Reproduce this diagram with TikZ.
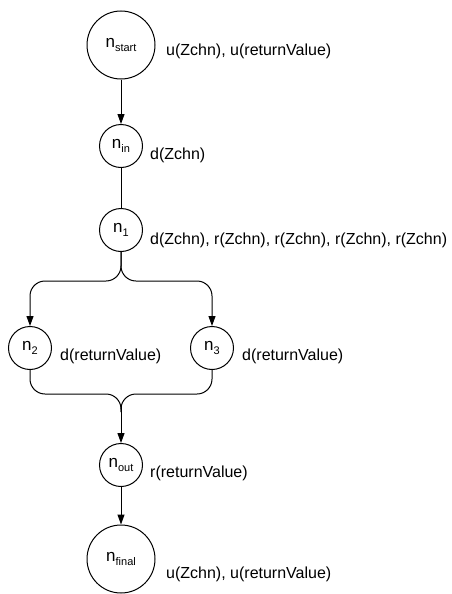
\documentclass[tikz,border=0pt]{standalone}
\usepackage{fontspec}
\setmainfont{Liberation Sans}
\usetikzlibrary{arrows.meta}
\newcommand{\nsub}[1]{n\raisebox{-4pt}{\fontsize{11}{12}\selectfont #1}}
\begin{document}
\begin{tikzpicture}[x=1pt,y=-1pt,
  big/.style={circle,draw,minimum size=68pt,inner sep=0pt,line width=1pt,font=\fontsize{17}{18}\selectfont},
  small/.style={circle,draw,minimum size=43pt,inner sep=0pt,line width=1pt,font=\fontsize{17}{18}\selectfont},
  lbl/.style={anchor=west,inner sep=0pt,font=\fontsize{16}{18}\selectfont},
  arr/.style={-{Triangle[length=10pt,width=7pt]},line width=1pt},
  ln/.style={line width=1pt,rounded corners=15pt}
]
\useasboundingbox (0,0) rectangle (452,594);
\node[big] (ns) at (121,45) {\nsub{start}};
\node[small] (nin) at (121,146) {\nsub{in}};
\node[small] (n1) at (121,230) {\nsub{1}};
\node[small] (n2) at (30,348) {\nsub{2}};
\node[small] (n3) at (212,348) {\nsub{3}};
\node[small] (nout) at (121,465) {\nsub{out}};
\node[big] (nf) at (121,559) {\nsub{final}};

\node[lbl] (ls) at (166,51) {u(Zchn), u(returnValue)};
\node[lbl] (lin) at (150,155) {d(Zchn)};
\node[lbl] (l1) at (150,240) {d(Zchn), r(Zchn), r(Zchn), r(Zchn), r(Zchn)};
\node[lbl] (l2) at (60,356) {d(returnValue)};
\node[lbl] (l3) at (242,356) {d(returnValue)};
\node[lbl] (lout) at (150,473) {r(returnValue)};
\node[lbl] (lf) at (166,574) {u(Zchn), u(returnValue)};

\coordinate (fork) at (121,281);
\coordinate (merge) at (121,394);
\coordinate (join) at (121,412);
\draw[arr] (ns) -- (nin);
\draw[ln] (nin) -- (n1);
\draw[ln,arr] (n1.south) -- (fork) -| (n2.north);
\draw[ln,arr] (n1.south) -- (fork) -| (n3.north);
\draw[ln] (n2.south) |- (merge) -- (join);
\draw[ln] (n3.south) |- (merge) -- (join);
\draw[arr] (121,405) -- (nout.north);
\draw[arr] (nout) -- (nf);
\end{tikzpicture}
\end{document}
